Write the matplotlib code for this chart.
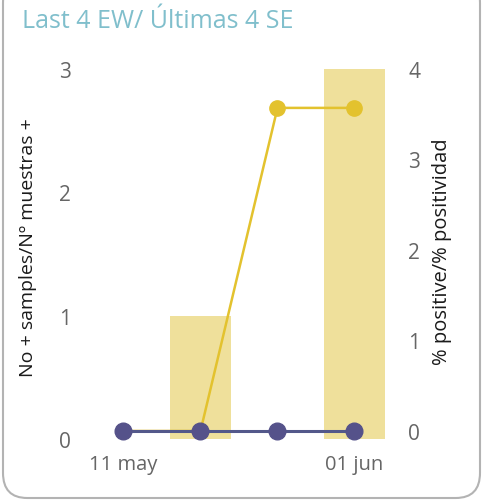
import numpy as np
import matplotlib.pyplot as plt
from matplotlib.patches import FancyBboxPatch

plt.rcParams['font.family'] = ['Open Sans', 'DejaVu Sans']

# datos
semanas = ["11 may", "18 may", "25 may", "01 jun"]
etiquetas_x = ["11 may", "", "", "01 jun"]
muestras_pos = [0, 1, 0, 3]
pct_positivo = [0, 0, 3.57, 3.57]
pct_otro = [0, 0, 0, 0]

x = np.arange(len(semanas))

fig = plt.figure(figsize=(4.85, 5.02), dpi=100)

# marco redondeado
marco = FancyBboxPatch((3 / 485, 3 / 502), 477 / 485, 520 / 502,
                       boxstyle="round,pad=0,rounding_size=0.05",
                       transform=fig.transFigure, facecolor="white",
                       edgecolor="#b3b3b3", linewidth=1.5, zorder=-10)
fig.patches.append(marco)

ax = fig.add_axes([85 / 485, 57 / 502, 308 / 485, 380 / 502])
ax.patch.set_alpha(0)
ax.bar(x, muestras_pos, width=0.8, color="#efe09b", zorder=1)
ax.set_xlim(-0.5, 3.5)
ax.set_ylim(-0.04, 3.04)
ax.set_yticks([0, 1, 2, 3])
ax.set_xticks(x)
ax.set_xticklabels(etiquetas_x)
ax.set_ylabel("No + samples/Nº muestras +", fontsize=14, color="#1a1a1a")
ax.yaxis.set_label_coords(-0.155, 0.52)

ax2 = ax.twinx()
ax2.plot(x, pct_positivo, color="#e3c22e", lw=1.8, marker="o", ms=11,
         zorder=3)
ax2.plot(x, pct_otro, color="#53588a", lw=2.2, marker="o", ms=12,
         markerfacecolor="#55528a", markeredgecolor="#55528a", zorder=4)
ax2.set_ylim(-0.144, 4.055)
ax2.set_yticks([0, 1, 2, 3, 4])
ax2.set_ylabel("% positive/% positividad", fontsize=14.5, color="#1a1a1a")
ax2.yaxis.set_label_coords(1.127, 0.51)

for a in (ax, ax2):
    for s in a.spines.values():
        s.set_visible(False)
    a.tick_params(length=0, labelsize=15, colors="#666666")
ax.tick_params(axis="x", labelsize=14.5, pad=7)
ax.tick_params(axis="y", pad=10)
ax2.tick_params(axis="y", pad=11)

fig.text(22 / 485, 1 - 22 / 502, "Last 4 EW/ Últimas 4 SE", fontsize=18,
         color="#80bfcc", va="center", ha="left")

fig.savefig("out.png", dpi=100)
